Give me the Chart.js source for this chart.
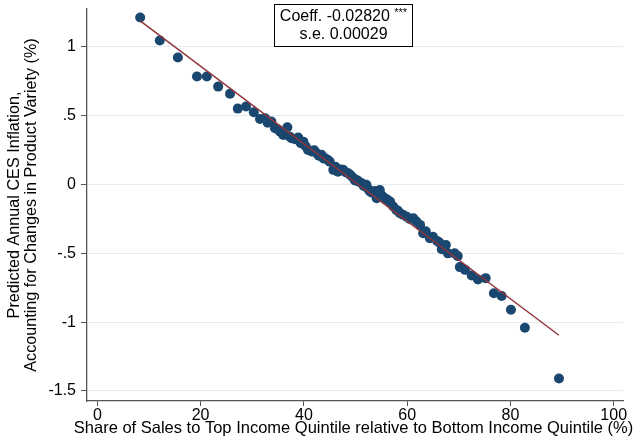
<!DOCTYPE html>
<html>
<head>
<meta charset="utf-8">
<script src="https://cdn.jsdelivr.net/npm/chart.js@4/dist/chart.umd.min.js"></script>
<style>
  body { margin: 0; background: #fff; }
  #wrap { width: 635px; height: 446px; }
</style>
</head>
<body>
<div id="wrap"><canvas id="chart"></canvas></div>
<script>
// binned scatter: share of sales (x) vs predicted inflation (y)
const shareX = [
  8.3, 12.1, 15.6, 19.3, 21.2, 23.4, 25.7, 27.2, 28.8,
  30.3, 31.5, 32.5, 33.0, 33.7, 34.4, 35.0, 35.4, 36.0, 36.8, 37.2, 37.6, 38.3, 38.9, 39.4, 39.9,
  40.3, 40.8, 41.5, 42.0, 42.5, 42.9, 43.4, 43.8, 44.1, 44.6, 45.0, 45.7, 46.1, 46.6, 47.1, 47.6,
  48.1, 48.6, 49.0, 49.5, 49.9, 50.2, 50.7, 51.2, 51.6, 52.1, 52.4, 52.8, 53.2, 53.7, 54.1, 54.7,
  55.1, 55.7, 56.2, 56.7, 57.3, 57.9, 58.2, 58.6, 59.2, 59.9, 60.5, 61.2, 61.8, 62.5, 63.1, 63.6,
  64.4, 65.0, 65.8, 66.2, 66.7, 67.5, 67.9, 69.2, 69.8, 70.2, 71.2, 72.5, 73.7, 75.2, 76.8, 78.3,
  80.1, 82.8, 89.4
];
const inflY = [
  1.214, 1.047, 0.923, 0.785, 0.785, 0.712, 0.66, 0.552, 0.567,
  0.525, 0.477, 0.482, 0.45, 0.458, 0.409, 0.40, 0.385, 0.361, 0.416, 0.35, 0.337, 0.33, 0.342, 0.30, 0.312,
  0.28, 0.252, 0.24, 0.25, 0.228, 0.21, 0.216, 0.19, 0.191, 0.18, 0.167, 0.107, 0.13, 0.094, 0.11, 0.107,
  0.09, 0.082, 0.07, 0.051, 0.03, 0.034, 0.02, 0.009, -0.01, -0.002, -0.03, -0.051, -0.06, -0.046, -0.10, -0.039,
  -0.08, -0.10, -0.11, -0.124, -0.16, -0.184, -0.19, -0.208, -0.22, -0.233, -0.25, -0.245, -0.269, -0.293, -0.354, -0.34,
  -0.39, -0.38, -0.41, -0.42, -0.47, -0.44, -0.50, -0.50, -0.52, -0.60, -0.62, -0.66, -0.69, -0.68, -0.79, -0.81,
  -0.91, -1.04, -1.41
];
// linear fit drawn between the outermost bins
const fitX = [8.3, 89.4];
const fitY = [1.19, -1.095];

const xTicks = [0, 20, 40, 60, 80, 100];
const yTicks = [-1.5, -1, -0.5, 0, 0.5, 1];
const yTickLabels = ["-1.5", "-1", "-.5", "0", ".5", "1"];

const xTitle = "Share of Sales to Top Income Quintile relative to Bottom Income Quintile (%)";
const statLine1 = "Coeff. -0.02820 ";
const statStars = "***";
const statLine2 = "s.e. 0.00029";

const FONT = "'Liberation Sans', Arial, sans-serif";
const AXIS = "#555555";

// x title is wider than the plot, so chart.js would squeeze it; draw it here
const extraText = {
  id: "extraText",
  afterDraw(chart) {
    const ctx = chart.ctx;
    ctx.save();
    ctx.fillStyle = "#000";
    ctx.textBaseline = "alphabetic";
    ctx.textAlign = "center";
    ctx.font = "16.5px " + FONT;
    ctx.fillText(xTitle, 353.5, 432.5);

    ctx.fillStyle = "#fff";
    ctx.strokeStyle = "#000";
    ctx.lineWidth = 1;
    ctx.fillRect(274.5, 4.5, 138, 42);
    ctx.strokeRect(274.5, 4.5, 138, 42);
    ctx.fillStyle = "#000";
    ctx.font = "16px " + FONT;
    const w1 = ctx.measureText(statLine1).width;
    ctx.font = "11px " + FONT;
    const ws = ctx.measureText(statStars).width;
    const cx = 274.5 + 69;
    let x = cx - (w1 + ws) / 2;
    ctx.font = "16px " + FONT;
    ctx.textAlign = "left";
    ctx.fillText(statLine1, x, 20.5);
    ctx.font = "11px " + FONT;
    ctx.fillText(statStars, x + w1, 16);
    ctx.font = "16px " + FONT;
    ctx.textAlign = "center";
    ctx.fillText(statLine2, cx, 39);
    ctx.restore();
  }
};

function buildChart() {
  const ctx = document.getElementById("chart");
  return new Chart(ctx, {
    data: {
      datasets: [
        {
          type: "line",
          data: fitX.map((x, i) => ({ x: x, y: fitY[i] })),
          borderColor: "#90353b",
          borderWidth: 1.5,
          pointRadius: 0,
          fill: false,
          order: 0
        },
        {
          type: "scatter",
          data: shareX.map((x, i) => ({ x: x, y: inflY[i] })),
          backgroundColor: "#1a476f",
          borderWidth: 0,
          pointRadius: 5,
          order: 1
        }
      ]
    },
    options: {
      responsive: true,
      maintainAspectRatio: false,
      devicePixelRatio: 1,
      animation: false,
      layout: { padding: { top: 9, right: 12, left: 0, bottom: 0 } },
      plugins: { legend: { display: false }, tooltip: { enabled: false } },
      scales: {
        x: {
          type: "linear",
          min: -2,
          max: 101.8,
          afterBuildTicks: (s) => { s.ticks = xTicks.map((v) => ({ value: v })); },
          afterFit: (s) => { s.height = 45; s.paddingLeft = 0; s.paddingRight = 0; },
          grid: { drawOnChartArea: false, drawTicks: true, tickLength: 5, tickColor: AXIS, tickWidth: 1 },
          border: { display: true, color: AXIS, width: 1.3 },
          ticks: { padding: 0, color: "#000", font: { family: FONT, size: 16 }, maxRotation: 0 },
          title: { display: false }
        },
        y: {
          type: "linear",
          min: -1.573,
          max: 1.276,
          afterBuildTicks: (s) => { s.ticks = yTicks.map((v) => ({ value: v })); },
          afterFit: (s) => { s.width = 87; s.paddingTop = 0; s.paddingBottom = 0; },
          grid: { color: "#e3ecee", lineWidth: 1, drawTicks: true, tickLength: 6, tickColor: AXIS },
          border: { display: true, color: AXIS, width: 1.3 },
          ticks: {
            padding: 5,
            color: "#000",
            font: { family: FONT, size: 16, lineHeight: 1 },
            callback: (v) => yTickLabels[yTicks.indexOf(v)]
          },
          title: {
            display: true,
            text: ["Predicted Annual CES Inflation,", "Accounting for Changes in Product Variety (%)"],
            color: "#000",
            font: { family: FONT, size: 16.2, lineHeight: 1.06 },
            padding: { top: 6, bottom: 0 }
          }
        }
      }
    },
    plugins: [extraText]
  });
}

window.onload = function () {
  buildChart();
};
</script>
</body>
</html>
